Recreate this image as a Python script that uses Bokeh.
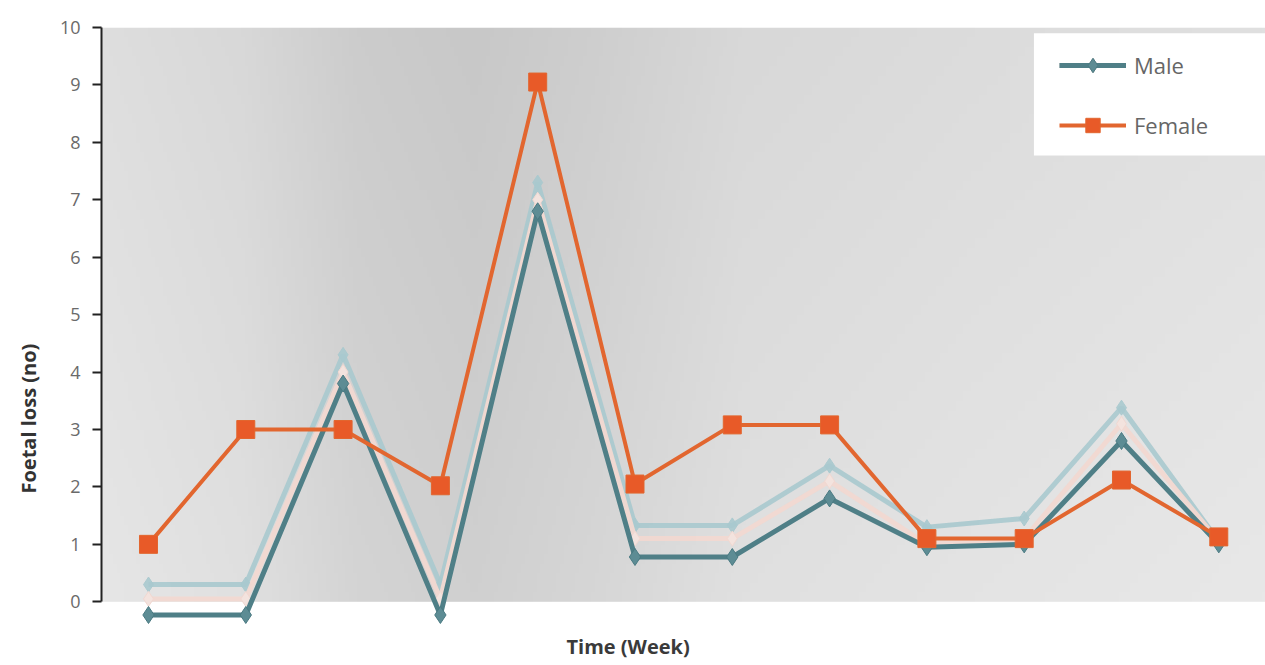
import numpy as np
from bokeh.plotting import figure
from bokeh.models import FixedTicker, Legend, LegendItem, Range1d, Title, BoxAnnotation
from bokeh.embed import file_html
from bokeh.resources import INLINE

# ---- data ----
weeks = [1, 2, 3, 4, 5, 6, 7, 8, 9, 10, 11, 12]
female = [1.0, 3.0, 3.0, 2.02, 9.05, 2.05, 3.08, 3.08, 1.1, 1.1, 2.12, 1.13]
male = [0.05, 0.05, 4.0, 0.05, 7.0, 1.1, 1.1, 2.1, 1.0, 1.1, 3.1, 1.05]
male_shade_light = [0.3, 0.3, 4.3, 0.3, 7.3, 1.33, 1.33, 2.37, 1.3, 1.45, 3.38, 1.05]
male_shade_dark = [-0.23, -0.23, 3.8, -0.23, 6.8, 0.78, 0.78, 1.8, 0.95, 1.0, 2.8, 1.0]
y_ticks = [0, 1, 2, 3, 4, 5, 6, 7, 8, 9, 10]

W, H = 1265, 662
X0, X1 = 0.517, 12.48
Y0, Y1 = -0.5, 10.0
p = figure(width=W, height=H, output_backend="svg", toolbar_location=None,
           x_range=Range1d(X0, X1), y_range=Range1d(Y0, Y1),
           min_border_left=100, min_border_right=0, min_border_top=27,
           min_border_bottom=32)
p.outline_line_color = None
p.background_fill_color = "white"
p.border_fill_color = "white"
p.grid.visible = False

# plot-area background (light gray with a darker band, like the scan)
nx = 300
xs = np.linspace(0, 1, nx)
stops_x = [0.0, 0.12, 0.22, 0.32, 0.42, 0.55, 0.75, 1.0]
stops_v = [226, 220, 208, 204, 210, 220, 224, 228]
row = np.interp(xs, stops_x, stops_v)
ny = 60
ys = np.linspace(0, 1, ny)
col = np.interp(ys, [0, 0.5, 1.0], [4, 0, -4])
g = np.clip(row[None, :] + col[:, None], 0, 255).astype(np.uint32)
img = (255 << 24) | (g << 16) | (g << 8) | g
p.image_rgba(image=[img.view(np.uint32)], x=X0, y=0, dw=X1 - X0, dh=10)

# male series (with the scan's shadow copies)
r_ml = p.line(weeks, male_shade_light, line_color="#a9c9ce", line_width=5, alpha=0.9)
m_ml = p.scatter(weeks, male_shade_light, marker="diamond", size=15, fill_color="#a9c9ce",
                 line_color="#a9c9ce", alpha=0.9)
r_mp = p.line(weeks, male, line_color="#f1d8d1", line_width=5, alpha=0.95)
m_mp = p.scatter(weeks, male, marker="diamond", size=15, fill_color="#f3e3de",
                 line_color="#f1d8d1")
r_md = p.line(weeks, male_shade_dark, line_color="#4f7f87", line_width=5)
m_md = p.scatter(weeks, male_shade_dark, marker="diamond", size=17, fill_color="#5d8c94",
                 line_color="#4a7a82")

# female series
r_f = p.line(weeks, female, line_color="#e2662f", line_width=4)
m_f = p.scatter(weeks, female, marker="square", size=18, fill_color="#e85a28",
                line_color="#e2662f")

# legend box (white panel) + legend
p.add_layout(BoxAnnotation(left=10.1, right=X1, bottom=7.77, top=9.9,
                           fill_color="white", fill_alpha=1.0, line_color=None,
                           level="overlay"))
legend = Legend(items=[
    LegendItem(label="Male", renderers=[r_ml, m_ml, r_mp, m_mp, r_md, m_md]),
    LegendItem(label="Female", renderers=[r_f, m_f]),
], location=(958, 487))
legend.glyph_width = 67
legend.glyph_height = 36
legend.label_text_font = "Open Sans"
legend.label_text_font_size = "22px"
legend.label_text_color = "#666666"
legend.background_fill_alpha = 0.0
legend.border_line_color = None
legend.spacing = 24
legend.padding = 10
legend.margin = 0
legend.label_standoff = 8
p.add_layout(legend)

# y axis
ya = p.yaxis[0]
ya.ticker = FixedTicker(ticks=y_ticks)
ya.bounds = (0, 10)
ya.major_label_text_font = "Open Sans"
ya.major_label_text_font_size = "18px"
ya.major_label_text_color = "#6a6a6a"
ya.axis_line_color = "#222222"
ya.axis_line_width = 2
ya.major_tick_line_color = "#222222"
ya.major_tick_line_width = 2
ya.major_tick_out = 9
ya.major_tick_in = 0
ya.minor_tick_line_color = None
ya.major_label_standoff = 12

p.xaxis.visible = False

# axis titles placed as in the picture
p.add_layout(Title(text="Foetal loss (no)", align="left", offset=137,
                   vertical_align="middle", standoff=27,
                   text_font="Open Sans", text_font_style="bold",
                   text_font_size="20px", text_color="#333333"), "left")
p.add_layout(Title(text="Time (Week)", align="left", offset=465,
                   vertical_align="bottom", standoff=0,
                   text_font="Open Sans", text_font_style="bold",
                   text_font_size="20px", text_color="#3a3a3a"), "below")

open("out.html", "w").write(file_html(p, INLINE))
